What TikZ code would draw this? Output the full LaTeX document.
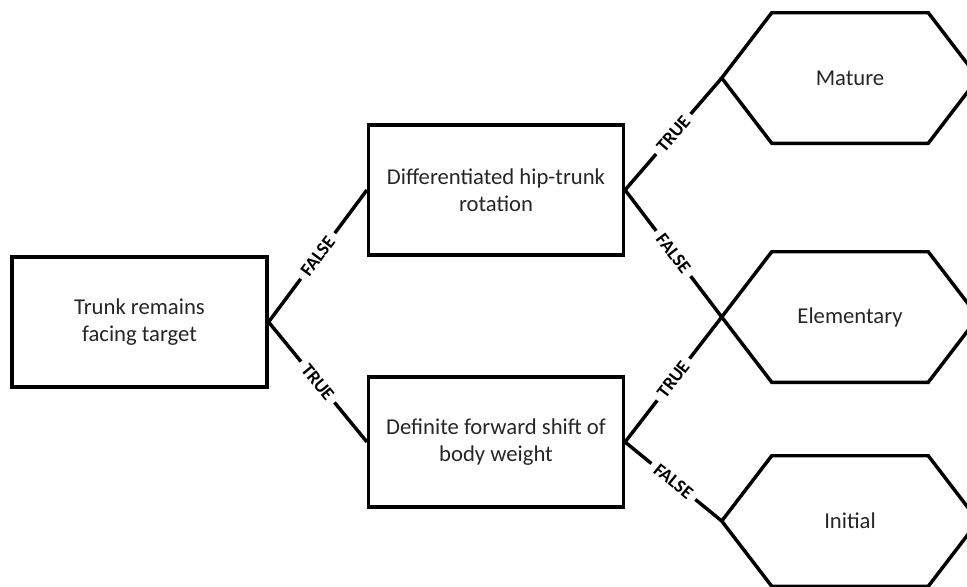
\documentclass[tikz,border=0pt]{standalone}
\usepackage{fontspec}
\setmainfont{Carlito}
\usetikzlibrary{calc}
\begin{document}
\begin{tikzpicture}[x=0.75pt,y=-0.75pt,
  txt/.style={font=\fontsize{17}{20}\selectfont, text=black!85, align=center},
  box/.style={txt, draw, line width=2.6pt, minimum width=191pt, minimum height=97.5pt, inner sep=0pt},
  hexnode/.style={txt, minimum width=192pt, minimum height=97.5pt, inner sep=0pt},
  hexline/.style={line width=2.6pt, line join=miter},
  conn/.style={line width=2.6pt},
  lbl/.style={midway, sloped, fill=white, inner xsep=4.5pt, inner ysep=1pt, font=\bfseries\fontsize{14}{14}\selectfont}
]
\useasboundingbox (0,0) rectangle (967,586);

\node[box] (trunk) at (139.5,322) {Trunk remains\\facing target};
\node[box] (hip) at (496,190) {Differentiated hip-trunk\\rotation};
\node[box] (shift) at (496,442) {Definite forward shift of\\body weight};

\node[hexnode] (mature) at (850,78) {Mature};
\node[hexnode] (elem) at (850,317) {Elementary};
\node[hexnode] (init) at (850,521) {Initial};

\foreach \h in {mature,elem,init}{
  \draw[hexline] (\h.west) -- ($(\h.north west)+(50,0)$) -- ($(\h.north east)+(-50,0)$) -- (\h.east) -- ($(\h.south east)+(-50,0)$) -- ($(\h.south west)+(50,0)$) -- cycle;
}

\draw[conn] (trunk.east) -- (hip.west) node[lbl] {FALSE};
\draw[conn] (trunk.east) -- (shift.west) node[lbl] {TRUE};
\draw[conn] (hip.east) -- (mature.west) node[lbl] {TRUE};
\draw[conn] (hip.east) -- (elem.west) node[lbl] {FALSE};
\draw[conn] (shift.east) -- (elem.west) node[lbl] {TRUE};
\draw[conn] (shift.east) -- (init.west) node[lbl] {FALSE};
\end{tikzpicture}
\end{document}
